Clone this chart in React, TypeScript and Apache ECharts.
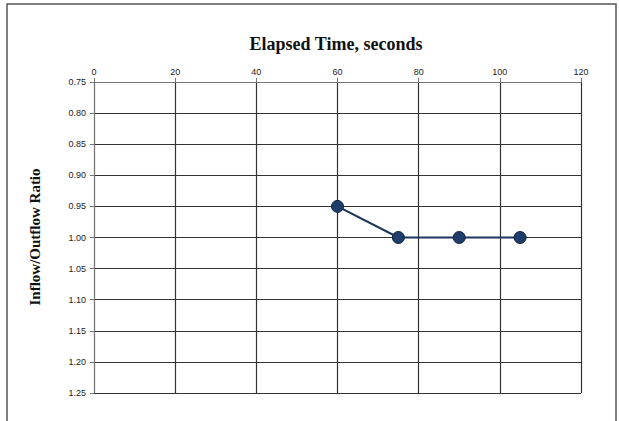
import React, { useEffect, useRef } from "react";
import * as echarts from "echarts";

const xTicks = [0, 20, 40, 60, 80, 100, 120];
const elapsedSeconds = [60, 75, 90, 105];
const ratioValues = [0.95, 1.0, 1.0, 1.0];
const titleText = "Elapsed Time, seconds";
const yName = "Inflow/Outflow Ratio";

export default function App() {
  const ref = useRef<HTMLDivElement>(null);
  useEffect(() => {
    if (!ref.current) return;
    const chart = echarts.init(ref.current, undefined, { renderer: "svg" });
    chart.setOption({
      animation: false,
      backgroundColor: "#ffffff",
      title: {
        text: titleText,
        left: 331,
        top: 30,
        textAlign: "center",
        textStyle: { fontFamily: "Liberation Serif", fontWeight: "bold", fontSize: 18, color: "#111" },
      },
      graphic: [
        {
          type: "rect",
          shape: { x: 7, y: 4, width: 609, height: 440 },
          style: { fill: "none", stroke: "#555", lineWidth: 1.5 },
          silent: true,
        },
        {
          type: "text",
          x: 35,
          y: 237,
          rotation: Math.PI / 2,
          style: {
            text: yName,
            fontFamily: "Liberation Serif",
            fontWeight: "bold",
            fontSize: 15,
            fill: "#111",
            align: "center",
            verticalAlign: "middle",
          },
        },
      ],
      grid: { left: 94, right: 38, top: 82, bottom: 28 },
      xAxis: {
        type: "value",
        position: "top",
        min: xTicks[0],
        max: xTicks[xTicks.length - 1],
        interval: 20,
        axisLine: { show: true, lineStyle: { color: "#777", width: 1 } },
        axisTick: { show: true, length: 4, lineStyle: { color: "#777" } },
        axisLabel: { fontFamily: "Liberation Sans", fontSize: 9, color: "#222", margin: 6 },
        splitLine: { show: true, lineStyle: { color: "#333", width: 1.2 } },
      },
      yAxis: {
        type: "value",
        inverse: true,
        min: 0.75,
        max: 1.25,
        interval: 0.05,
        axisLine: { show: true, lineStyle: { color: "#777", width: 1 } },
        axisTick: { show: true, length: 4, lineStyle: { color: "#777" } },
        axisLabel: {
          fontFamily: "Liberation Sans",
          fontSize: 9,
          color: "#222",
          margin: 8,
          formatter: (v: number) => v.toFixed(2),
        },
        splitLine: { show: true, lineStyle: { color: "#333", width: 1.2 } },
      },
      series: [
        {
          type: "line",
          data: elapsedSeconds.map((x, i) => [x, ratioValues[i]]),
          symbol: "circle",
          symbolSize: 12,
          lineStyle: { color: "#1c355e", width: 2 },
          itemStyle: { color: "#1f3d6b", borderColor: "#0f2240", borderWidth: 1 },
        },
      ],
    });
    return () => chart.dispose();
  }, []);
  return (
    <div
      ref={ref}
      style={{ position: "fixed", left: 0, top: 0, width: 619, height: 421 }}
    />
  );
}
